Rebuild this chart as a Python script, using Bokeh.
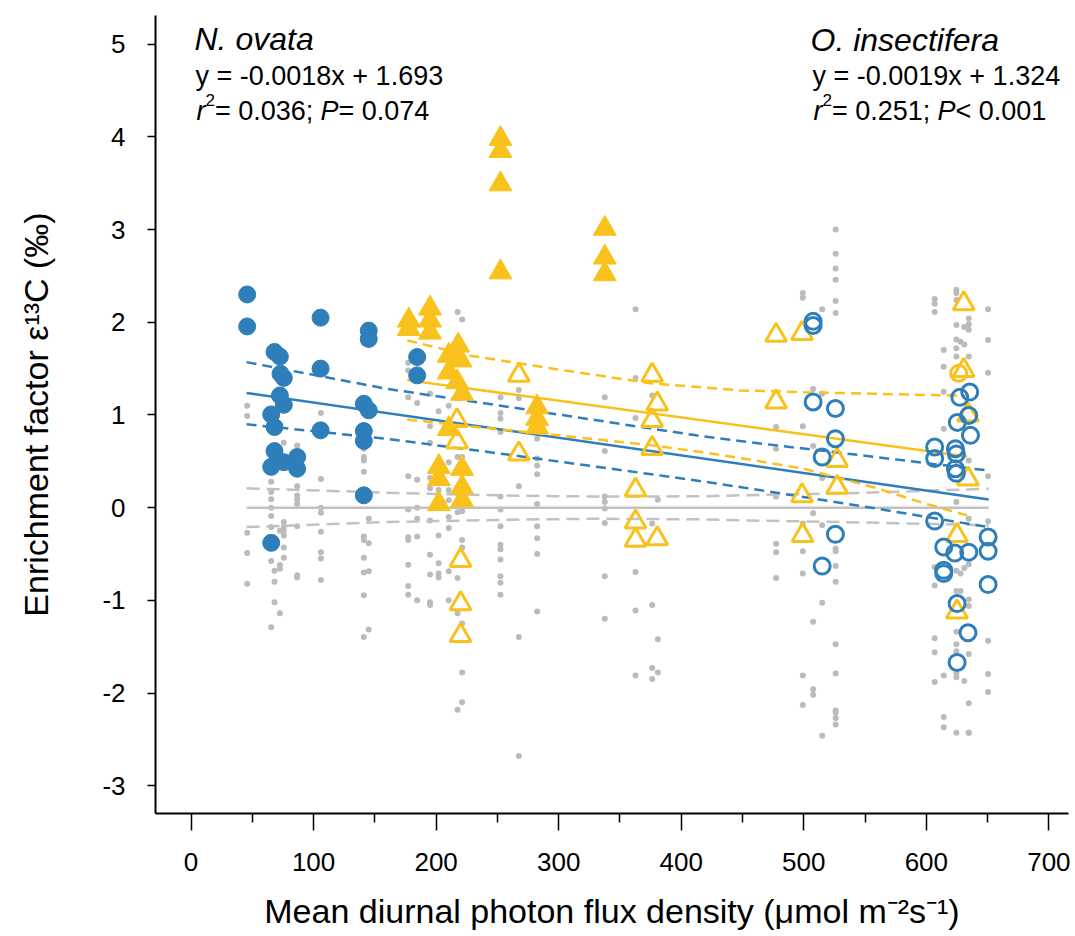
from bokeh.plotting import figure
from bokeh.models import Range1d, FixedTicker, Label
from bokeh.embed import file_html
from bokeh.resources import INLINE

# ---------------- data ----------------
# O. insectifera (blue), filled circles
ins_filled_x = [45.8, 45.8, 68.1, 72.5, 73.0, 75.7, 72.5, 75.7, 65.4, 68.1, 68.1, 65.4, 75.7, 86.6, 86.6,
                65.4, 105.7, 105.7, 105.7, 145.0, 145.0, 141.0, 145.0, 141.0, 141.0, 141.0, 184.5, 184.5]
ins_filled_y = [2.30, 1.955, 1.68, 1.63, 1.445, 1.40, 1.21, 1.11, 1.006, 0.87, 0.61, 0.44, 0.49, 0.546, 0.42,
                -0.38, 2.05, 1.50, 0.834, 1.91, 1.82, 1.12, 1.05, 0.826, 0.72, 0.133, 1.625, 1.427]
# O. insectifera (blue), open circles
ins_open_x = [507.6, 507.6, 507.6, 525.8, 525.8, 515.0, 606.8, 606.8, 623.7, 624.5, 623.7, 624.5, 635.4,
              627.3, 634.6, 625.3, 636.0, 525.8, 515.0, 606.8, 614.2, 623.2, 634.6, 650.4, 650.4, 614.2,
              614.2, 650.4, 625.1, 634.0, 625.1]
ins_open_y = [2.01, 1.965, 1.14, 1.07, 0.744, 0.546, 0.654, 0.53, 0.636, 0.58, 0.42, 0.37, 1.247,
              1.19, 0.995, 0.92, 0.78, -0.288, -0.63, -0.145, -0.425, -0.49, -0.48, -0.317, -0.47, -0.676,
              -0.71, -0.83, -1.035, -1.35, -1.67]
# N. ovata (yellow), filled triangles
ova_filled_x = [177.7, 177.7, 195.0, 195.0, 195.0, 218.0, 210.3, 219.9, 210.3, 217.2, 221.2, 210.3, 202.2,
                202.2, 202.2, 221.2, 221.2, 221.2, 282.4, 282.4, 282.4, 252.5, 252.5, 252.5, 252.5, 337.6,
                337.6, 337.6]
ova_filled_y = [2.02, 1.93, 2.15, 2.02, 1.89, 1.75, 1.64, 1.59, 1.46, 1.355, 1.23, 0.85, 0.44,
                0.31, 0.04, 0.42, 0.22, 0.08, 1.085, 0.96, 0.87, 3.98, 3.85, 3.49, 2.54, 3.01,
                2.70, 2.52]
# N. ovata (yellow), open triangles
ova_open_x = [267.5, 267.5, 217.0, 217.0, 219.9, 219.9, 219.9, 376.3, 380.4, 376.3, 376.3, 362.7, 362.7,
              362.7, 380.4, 477.4, 498.6, 477.4, 527.2, 527.2, 498.6, 499.0, 630.5, 630.5, 634.0, 634.0,
              625.0, 625.0]
ova_open_y = [1.43, 0.58, 0.94, 0.71, -0.57, -1.035, -1.38, 1.43, 1.12, 0.94, 0.64, 0.19, -0.155,
              -0.35, -0.335, 1.86, 1.88, 1.14, 0.51, 0.22, 0.13, -0.30, 2.20, 1.48, 1.0, 0.31,
              -0.30, -1.125]
ova_circle_x = [626.4]
ova_circle_y = [1.45]

# null-model points (grey)
null_x = ([45.8] * 5 + [65.4] * 8 + [68.1] * 3 + [72.5] * 4 + [75.7] * 7 + [86.6] * 8 + [106.0] * 8
          + [141.0] * 11 + [145.0] * 4 + [177.2] * 10 + [184.5] * 6 + [195.0] * 10 + [202.0] * 7
          + [210.3] * 8 + [217.5] * 6 + [221.2] * 8 + [252.5] * 13 + [267.5] * 5 + [282.4] * 9
          + [337.6] * 8 + [362.7] * 6 + [376.3] * 5 + [380.9] * 3 + [477.4] * 6 + [499.2] * 8
          + [507.6] * 6 + [515.0] * 6 + [526.0] * 16 + [606.8] * 8 + [614.2] * 7 + [624.5] * 16
          + [628.0] * 3 + [631.0] * 4 + [634.6] * 13 + [650.4] * 8)
null_y = [1.10, 0.99, -0.27, -0.49, -0.82,
          0.28, 0.17, 0.09, 0.0, -0.09, -0.21, -0.575, -1.29,
          -0.68, -0.80, -1.02,
          -0.62, -0.66, -1.14, -0.25,
          0.70, -0.155, -0.21, -0.25, -0.30, -0.43, -0.54,
          0.67, 0.23, 0.13, 0.09, 0.04, -0.20, -0.73, -0.755,
          1.02, 0.31, 0.0, -0.054, -0.26, -0.48, -0.55, -0.78,
          1.775, 0.636, 0.546, 0.51, 0.388, -0.31, -0.35, -0.54, -0.70, -0.946, -1.395,
          -0.12, -0.385, -0.687, -1.316,
          1.564, 1.48, 1.19, 0.34, -0.02, -0.32, -0.35, -0.615, -0.845, -0.94,
          1.13, 0.30, 0.0, -0.12, -0.31, -1.0,
          1.23, 0.877, 0.70, 0.32, 0.21, -0.14, -0.507, -0.72, -1.02, -1.05,
          1.04, 0.28, 0.19, -0.3, -0.6, -0.71, -0.755,
          1.10, 0.49, 0.19, 0.08, -0.10, -0.22, -0.687, -1.0,
          2.11, 0.546, -0.05, -0.76, -1.14, -2.18,
          2.03, 0.546, -0.04, -0.35, -0.43, -1.25, -1.78, -2.10,
          1.19, 1.02, 0.96, 0.815, 0.12, -0.02, -0.2, -0.40, -0.45, -0.56, -0.74, -0.81, -0.94,
          1.27, 1.18, 0.23, -1.395, -2.68,
          0.744, 0.53, 0.456, 0.36, 0.04, -0.2, -0.33, -0.5, -1.12,
          1.19, 0.61, 0.12, 0.06, -0.01, -0.166, -0.74, -1.20,
          2.14, 1.40, 0.967, -0.695, -1.11, -1.81,
          1.21, -0.17, -1.05, -1.73, -1.85,
          0.086, -1.42, -1.78,
          0.87, 0.636, 0.12, -0.39, -0.48, -0.76,
          2.315, 2.265, 0.877, -0.17, -0.47, -0.71, -1.81, -2.13,
          1.28, 0.665, -0.06, -1.23, -1.96, -2.02,
          2.14, 1.23, 0.32, -0.19, -1.025, -2.46,
          3.0, 2.74, 2.58, 2.46, 2.23, 2.10, -0.44, -0.47, -0.63, -0.80, -1.475, -1.79, -2.19, -2.21, -2.27, -2.34,
          2.25, 2.20, 2.11, -0.64, -0.84, -1.41, -1.56, -1.88,
          1.70, 1.52, 1.25, 0.85, -1.81, -2.26, -2.37,
          2.35, 2.315, 2.24, 1.97, 1.815, 1.72, 1.63, 0.06, -0.68, -0.90, -1.34, -1.475, -1.55, -1.79, -1.83, -2.43,
          1.79, -0.71, -0.90,
          1.95, 1.76, -0.65, -1.87,
          2.04, 1.98, 1.92, 1.63, 0.51, -0.12, -0.61, -0.99, -1.06, -1.58, -2.11, -2.43, -2.43,
          2.14, 1.81, 1.456, 0.34, -0.148, -1.435, -1.795, -1.99]

# regression lines and confidence bands
ins_line_x = [45.3, 650.9]
ins_line_y = [1.238, 0.087]
ins_band_x = [45.3, 159.0, 260.0, 412.0, 448.0, 550.0, 600.0, 650.9]
ins_band_upper = [1.57, 1.284, 1.085, 0.78, 0.718, 0.56, 0.48, 0.40]
ins_band_lower = [0.90, 0.744, 0.57, 0.294, 0.222, 0.01, -0.10, -0.21]

ova_line_x = [176.4, 633.3]
ova_line_y = [1.376, 0.553]
ova_band_x = [176.4, 228.0, 300.0, 376.0, 416.0, 448.0, 500.0, 557.0, 600.0, 633.3]
ova_band_upper = [1.805, 1.64, 1.49, 1.34, 1.30, 1.265, 1.245, 1.23, 1.215, 1.21]
ova_band_lower = [0.95, 0.877, 0.78, 0.672, 0.60, 0.535, 0.42, 0.22, 0.04, -0.083]

null_line_x = [45.3, 650.9]
null_line_y = [0.0, 0.0]
null_band_x = [45.3, 141.0, 160.0, 260.0, 330.0, 415.0, 448.0, 550.0, 650.9]
null_band_upper = [0.208, 0.17, 0.16, 0.13, 0.12, 0.122, 0.133, 0.16, 0.205]
null_band_lower = [-0.21, -0.165, -0.155, -0.13, -0.12, -0.126, -0.137, -0.16, -0.19]

x_ticks = [0, 100, 200, 300, 400, 500, 600, 700]
x_minor_ticks = [50, 150, 250, 350, 450, 550, 650]
y_ticks = [-3, -2, -1, 0, 1, 2, 3, 4, 5]

x_title = "Mean diurnal photon flux density (μmol m⁻²s⁻¹)"
y_title = "Enrichment factor ε¹³C (‰)"

# ---------------- styling ----------------
BLUE = "#2E7EBA"
YELLOW = "#F9C11B"
GREY_PT = "#BBBBBB"
GREY_LN = "#C2C2C2"
FONT = "Liberation Sans"

W, H = 1075, 936
FL, FR, FT, FB = 155, 7, 15, 123
p = figure(width=W, height=H, x_range=Range1d(-29, 716), y_range=Range1d(-3.30, 5.31),
           output_backend="svg", toolbar_location=None,
           min_border_left=FL, min_border_right=FR, min_border_top=FT, min_border_bottom=FB)
p.outline_line_color = None
p.grid.visible = False
p.background_fill_color = "white"
p.border_fill_color = "white"

xa = p.xaxis[0]
xa.ticker = FixedTicker(ticks=x_ticks, minor_ticks=x_minor_ticks)
xa.major_label_overrides = {t: str(t) for t in x_ticks}
ya = p.yaxis[0]
ya.ticker = FixedTicker(ticks=y_ticks)
ya.major_label_overrides = {t: str(t) for t in y_ticks}
for ax in (xa, ya):
    ax.axis_line_color = "black"
    ax.axis_line_width = 2
    ax.major_tick_line_color = "black"
    ax.major_tick_line_width = 1.5
    ax.minor_tick_line_color = "black"
    ax.minor_tick_line_width = 1.5
    ax.major_tick_in = 0
    ax.minor_tick_in = 0
    ax.major_label_text_font = FONT
    ax.major_label_text_font_size = "26px"
    ax.major_label_text_color = "black"
    ax.axis_label_text_font = FONT
    ax.axis_label_text_font_size = "34px"
    ax.axis_label_text_font_style = "normal"
    ax.axis_label_text_color = "black"
xa.major_tick_out = 17
xa.minor_tick_out = 9
xa.major_label_standoff = 22
xa.axis_label = x_title
xa.axis_label_standoff = 18
ya.major_tick_out = 8
ya.minor_tick_out = 0
ya.major_label_standoff = 22
ya.axis_label = y_title
ya.axis_label_standoff = 44

# null model
p.scatter(null_x, null_y, size=6, color=GREY_PT, line_color=None)
p.line(null_line_x, null_line_y, line_color=GREY_LN, line_width=2.5)
p.line(null_band_x, null_band_upper, line_color=GREY_LN, line_width=2.5, line_dash="13 7")
p.line(null_band_x, null_band_lower, line_color=GREY_LN, line_width=2.5, line_dash="13 7")

# regression lines
p.line(ins_line_x, ins_line_y, line_color=BLUE, line_width=2.5)
p.line(ins_band_x, ins_band_upper, line_color=BLUE, line_width=2.5, line_dash="10 6")
p.line(ins_band_x, ins_band_lower, line_color=BLUE, line_width=2.5, line_dash="10 6")
p.line(ova_line_x, ova_line_y, line_color=YELLOW, line_width=2.5)
p.line(ova_band_x, ova_band_upper, line_color=YELLOW, line_width=2.5, line_dash="10 6")
p.line(ova_band_x, ova_band_lower, line_color=YELLOW, line_width=2.5, line_dash="10 6")

# markers
p.scatter(ins_filled_x, ins_filled_y, size=17, fill_color=BLUE, line_color=BLUE, line_width=1)
p.scatter(ova_filled_x, ova_filled_y, marker="triangle", size=23, fill_color=YELLOW, line_color=YELLOW, line_width=1)
p.scatter(ova_open_x, ova_open_y, marker="triangle", size=21, fill_color=None, line_color=YELLOW, line_width=3)
p.scatter(ova_circle_x, ova_circle_y, size=16, fill_color=None, line_color=YELLOW, line_width=3)
p.scatter(ins_open_x, ins_open_y, size=16, fill_color=None, line_color=BLUE, line_width=3)


def txt(px, py, text, size, style="normal"):
    p.add_layout(Label(x=px - FL, y=(H - FB) - py, x_units="screen", y_units="screen",
                       text=text, text_font=FONT, text_font_size=f"{size}px",
                       text_font_style=style, text_color="black",
                       text_align="left", text_baseline="alphabetic"))


# species annotations
txt(194, 38, "N. ovata", 32, "italic")
txt(195, 75, "y = -0.0018x + 1.693", 27)
txt(196, 110, "r", 27, "italic")
txt(205, 99, "2", 17)
txt(214.5, 110, "= 0.036;", 27)
txt(320, 110, "P", 27, "italic")
txt(338, 110, "= 0.074", 27)

txt(810, 39, "O. insectifera", 32, "italic")
txt(812, 75, "y = -0.0019x + 1.324", 27)
txt(813, 110, "r", 27, "italic")
txt(822, 99, "2", 17)
txt(831.5, 110, "= 0.251;", 27)
txt(937, 110, "P", 27, "italic")
txt(955, 110, "< 0.001", 27)

open("out.html", "w").write(file_html(p, INLINE))
